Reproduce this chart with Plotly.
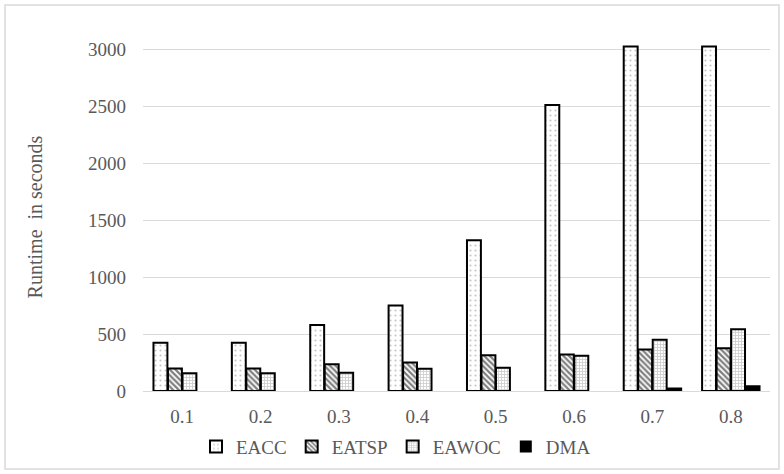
import plotly.graph_objects as go

categories = ["0.1", "0.2", "0.3", "0.4", "0.5", "0.6", "0.7", "0.8"]
eacc = [424, 424, 580, 752, 1325, 2515, 3030, 3030]
eatsp = [198, 198, 235, 250, 315, 320, 365, 375]
eawoc = [155, 155, 160, 195, 205, 310, 450, 542]
dma = [0, 0, 0, 0, 0, 0, 22, 42]
yticks = [0, 500, 1000, 1500, 2000, 2500, 3000]

FONT = "Liberation Serif"
GRAY = "#595959"

fig = go.Figure()
fig.add_bar(x=categories, y=eacc, name="EACC",
            marker=dict(color="white", line=dict(color="black", width=2),
                        pattern=dict(shape=".", fgcolor="#8c8c8c", bgcolor="white", size=5, solidity=0.15)))
fig.add_bar(x=categories, y=eatsp, name="EATSP",
            marker=dict(color="white", line=dict(color="black", width=2),
                        pattern=dict(shape="\\", fgcolor="black", bgcolor="white", size=4, solidity=0.55)))
fig.add_bar(x=categories, y=eawoc, name="EAWOC",
            marker=dict(color="white", line=dict(color="black", width=2),
                        pattern=dict(shape="+", fgcolor="#a0a0a0", bgcolor="white", size=3, solidity=0.5)))
fig.add_bar(x=categories, y=dma, name="DMA",
            marker=dict(color="black", line=dict(color="black", width=[0 if v == 0 else 2 for v in dma])))

fig.update_layout(
    width=784, height=474,
    margin=dict(l=143, r=14, t=43, b=83, autoexpand=False),
    paper_bgcolor="white", plot_bgcolor="white",
    barmode="group", bargap=0.26, bargroupgap=0.04,
    font=dict(family=FONT, size=19, color=GRAY),
    showlegend=True,
    legend=dict(orientation="h", x=(396 - 143) / 627, xanchor="center", y=-0.16, yanchor="middle",
                font=dict(family=FONT, size=19, color=GRAY), itemwidth=30,
                tracegroupgap=0),
    xaxis=dict(showgrid=False, showline=True, linecolor="#d9d9d9", linewidth=1, automargin=False,
               ticks="", ticklabelstandoff=8, tickfont=dict(family=FONT, size=19, color=GRAY)),
    yaxis=dict(range=[0, 3060], tickvals=yticks, showgrid=True, gridcolor="#d9d9d9", gridwidth=1,
               zeroline=False, showline=False, ticks="", ticklabelstandoff=16, automargin=False,
               tickfont=dict(family=FONT, size=19, color=GRAY),
               title=dict(text="Runtime  in seconds", standoff=40,
                          font=dict(family=FONT, size=20, color=GRAY))),
    shapes=[dict(type="rect", xref="paper", yref="paper",
                 x0=(5 - 143) / 627, x1=(779 - 143) / 627,
                 y0=(391 - 469) / 348, y1=(391 - 5) / 348,
                 line=dict(color="#d9d9d9", width=1.5), fillcolor="rgba(0,0,0,0)", layer="above")],
)

fig.write_html("out.html", config={"displayModeBar": False},
               post_script="document.body.style.margin='0';document.body.style.overflow='hidden';")
